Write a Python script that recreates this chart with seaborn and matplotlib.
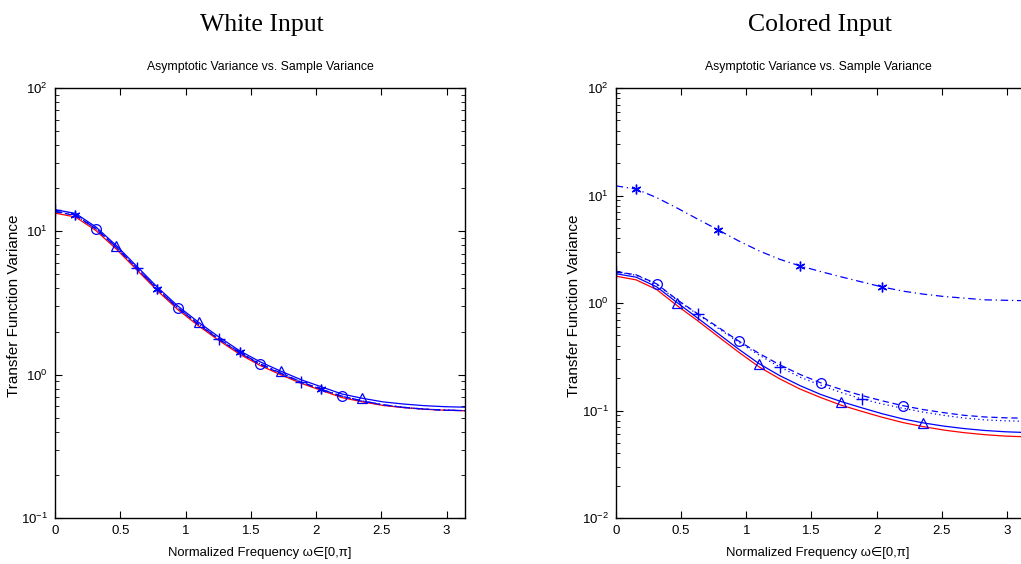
import numpy as np
import pandas as pd
import seaborn as sns
from matplotlib import pyplot as plt
from matplotlib.ticker import LogLocator, NullFormatter

# frequency grid (rad), pi/20 steps
freq = [0.000, 0.157, 0.314, 0.471, 0.628, 0.785, 0.942, 1.100, 1.257, 1.414, 1.571,
        1.728, 1.885, 2.042, 2.199, 2.356, 2.513, 2.670, 2.827, 2.985, 3.142]

# White input panel
white_asym = [13.40, 12.59, 10.12, 7.50, 5.37, 3.85, 2.84, 2.19, 1.73, 1.39, 1.16,
              1.00, 0.871, 0.776, 0.692, 0.646, 0.610, 0.589, 0.574, 0.565, 0.560]
white_tri = [14.16, 13.34, 10.72, 7.94, 5.69, 4.07, 3.01, 2.32, 1.83, 1.47, 1.23,
             1.06, 0.923, 0.822, 0.733, 0.684, 0.646, 0.624, 0.608, 0.598, 0.593]
white_star = [13.8, 13.0, 10.4, 7.73, 5.52, 3.95, 2.92, 2.25, 1.77, 1.43, 1.19,
              1.03, 0.890, 0.790, 0.708, 0.656, 0.617, 0.592, 0.576, 0.566, 0.562]
white_circ = [13.7, 12.9, 10.4, 7.70, 5.50, 3.93, 2.91, 2.24, 1.76, 1.42, 1.18,
              1.02, 0.886, 0.788, 0.706, 0.654, 0.615, 0.591, 0.575, 0.565, 0.561]
white_plus = [14.2, 13.1, 10.5, 7.78, 5.55, 3.97, 2.93, 2.26, 1.78, 1.43, 1.19,
              1.03, 0.888, 0.789, 0.707, 0.655, 0.616, 0.591, 0.575, 0.566, 0.561]

# Colored input panel
col_asym = [1.778, 1.641, 1.334, 0.944, 0.684, 0.488, 0.349, 0.254, 0.197, 0.158, 0.132,
            0.112, 0.0982, 0.0865, 0.0773, 0.0708, 0.0658, 0.0622, 0.0596, 0.0578, 0.0569]
col_tri = [1.875, 1.738, 1.413, 1.007, 0.724, 0.519, 0.372, 0.272, 0.211, 0.170, 0.141,
           0.121, 0.106, 0.0933, 0.0836, 0.0767, 0.0716, 0.0679, 0.0652, 0.0634, 0.0624]
col_star = [12.30, 11.48, 9.55, 7.64, 6.03, 4.79, 3.78, 3.05, 2.55, 2.21, 1.96,
            1.75, 1.57, 1.41, 1.29, 1.21, 1.15, 1.11, 1.07, 1.06, 1.05]
col_circ = [1.959, 1.828, 1.507, 1.072, 0.794, 0.596, 0.443, 0.339, 0.266, 0.216, 0.181,
            0.157, 0.138, 0.123, 0.111, 0.102, 0.0955, 0.0902, 0.0871, 0.0855, 0.0847]
col_plus = [1.950, 1.811, 1.486, 1.059, 0.785, 0.582, 0.432, 0.327, 0.254, 0.204, 0.172,
            0.147, 0.128, 0.115, 0.105, 0.0966, 0.0902, 0.0851, 0.0818, 0.0802, 0.0794]

panel_titles = ["White Input", "Colored Input"]
sub_title = "Asymptotic Variance vs. Sample Variance"
x_label = "Normalized Frequency \u03c9\u2208[0,\u03c0]"
y_label = "Transfer Function Variance"
x_ticks = [0, 0.5, 1, 1.5, 2, 2.5, 3]

sns.set_style("ticks")
plt.rcParams['font.family'] = ['Liberation Sans', 'DejaVu Sans']
plt.rcParams['mathtext.fontset'] = 'custom'
plt.rcParams['mathtext.rm'] = 'Liberation Sans'
plt.rcParams['mathtext.it'] = 'Liberation Sans'
for key in ['text.color', 'axes.labelcolor', 'xtick.color', 'ytick.color']:
    plt.rcParams[key] = 'black'

BLUE = (0, 0, 1)
RED = (1, 0, 0)
asterisk = (6, 2, 0)


def draw_panel(ax, asym, tri, star, circ, plus, ylow, right_ticks=True):
    df = pd.DataFrame({"w": freq, "asym": asym, "tri": tri, "star": star,
                       "circ": circ, "plus": plus})
    sns.lineplot(data=df, x="w", y="asym", ax=ax, color=RED, lw=0.9)
    sns.lineplot(data=df, x="w", y="tri", ax=ax, color=BLUE, lw=0.9,
                 marker="^", markevery=[3, 7, 11, 15], ms=7, mfc="none", mec=BLUE, mew=0.9)
    sns.lineplot(data=df, x="w", y="circ", ax=ax, color=BLUE, lw=0.9, linestyle=(0, (5, 3)),
                 marker="o", markevery=[2, 6, 10, 14], ms=7, mfc="none", mec=BLUE, mew=0.9)
    sns.lineplot(data=df, x="w", y="plus", ax=ax, color=BLUE, lw=0.9, linestyle=(0, (1, 2.5)),
                 marker="+", markevery=[0, 4, 8, 12], ms=8, mec=BLUE, mew=1.0)
    sns.lineplot(data=df, x="w", y="star", ax=ax, color=BLUE, lw=0.9, linestyle=(0, (6, 3, 1, 3)),
                 marker=asterisk, markevery=[1, 5, 9, 13], ms=7, mec=BLUE, mew=1.0)
    ax.set_yscale("log")
    ax.set_xlim(0, np.pi)
    ax.set_ylim(ylow, 100)
    ax.set_xticks(x_ticks)
    ax.set_xticklabels([str(t) for t in x_ticks])
    ax.yaxis.set_major_locator(LogLocator(base=10))
    ax.yaxis.set_minor_locator(LogLocator(base=10, subs=np.arange(2, 10)))
    ax.yaxis.set_minor_formatter(NullFormatter())
    ax.tick_params(which="both", direction="in", top=True, right=right_ticks,
                   labelsize=9.5, pad=5, colors="black")
    ax.tick_params(which="major", length=5, width=0.8)
    ax.tick_params(which="minor", length=3, width=0.6)
    for s in ax.spines.values():
        s.set_linewidth(1.0)
        s.set_color("black")
    ax.set_xlabel("")
    ax.set_ylabel("")


fig = plt.figure(figsize=(10.21, 5.64), dpi=100)
ax1 = fig.add_axes([55 / 1021, 46 / 564, 410 / 1021, 430 / 564])
ax2 = fig.add_axes([615.7 / 1021, 46 / 564, 410 / 1021, 430 / 564])

draw_panel(ax1, white_asym, white_tri, white_star, white_circ, white_plus, 0.1)
draw_panel(ax2, col_asym, col_tri, col_star, col_circ, col_plus, 0.01, right_ticks=False)

for cx, ttl in zip([262, 820], panel_titles):
    fig.text(cx / 1021, 1 - 25 / 564, ttl, ha="center", va="center",
             family="Liberation Serif", fontsize=18.5)
    fig.text((cx - 2) / 1021, 1 - 67 / 564, sub_title, ha="center", va="center", fontsize=8.8)
    fig.text((cx - 2) / 1021, 1 - 553 / 564, x_label, ha="center", va="center", fontsize=9.4)

for lx in [14, 574]:
    fig.text(lx / 1021, 1 - 306 / 564, y_label, ha="center", va="center",
             rotation=90, fontsize=11)

fig.savefig("out.png", dpi=100)
